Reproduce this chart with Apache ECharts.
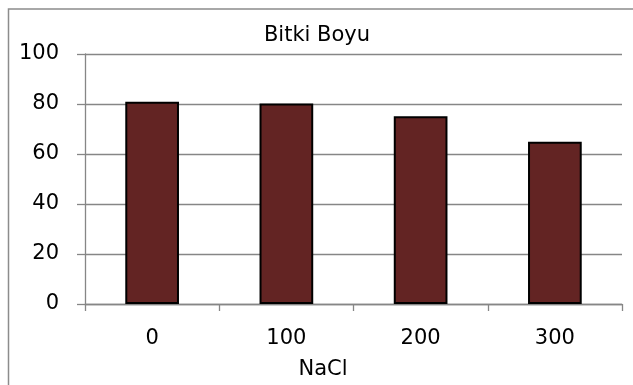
<!DOCTYPE html>
<html>
<head>
<meta charset="utf-8">
<script src="https://cdn.jsdelivr.net/npm/echarts@6/dist/echarts.min.js"></script>
<style>
  html, body { margin: 0; padding: 0; background: #fff; }
  #chart { width: 633px; height: 385px; }
</style>
</head>
<body>
<div id="chart"></div>
<script>
// NaCl doses and plant height values
var categories = ['0', '100', '200', '300'];
var plantHeight = [80.9, 80.2, 75.1, 64.9];
var yTicks = { min: 0, max: 100, interval: 20 };
var chartTitle = 'Bitki Boyu';
var xAxisName = 'NaCl';

var FONT = 'DejaVu Sans';
var GRID_GRAY = '#868686';

var chart = echarts.init(document.getElementById('chart'), null, { renderer: 'canvas' });

chart.setOption({
  animation: false,
  backgroundColor: '#ffffff',
  title: {
    text: chartTitle,
    left: 312,
    top: 20,
    textAlign: 'center',
    textStyle: { fontFamily: FONT, fontSize: 21, fontWeight: 'normal', color: '#000' }
  },
  graphic: [{
    type: 'rect',
    shape: { x: 8.5, y: 9, width: 1000, height: 1000 },
    style: { fill: 'none', stroke: '#8c8c8c', lineWidth: 1.5 },
    silent: true
  }],
  grid: { left: 85, right: 11, top: 54, bottom: 80 },
  xAxis: {
    type: 'category',
    data: categories,
    boundaryGap: true,
    name: xAxisName,
    nameLocation: 'middle',
    nameGap: 55,
    nameTextStyle: { fontFamily: FONT, fontSize: 21, color: '#000', padding: [0, 61, 0, 0] },
    axisLine: { show: true, lineStyle: { color: GRID_GRAY, width: 1.3 } },
    axisTick: { show: true, alignWithLabel: false, length: 7, lineStyle: { color: GRID_GRAY, width: 1.3 } },
    axisLabel: { fontFamily: FONT, fontSize: 21, color: '#000', margin: 24 },
    splitLine: { show: false }
  },
  yAxis: {
    type: 'value',
    min: yTicks.min,
    max: yTicks.max,
    interval: yTicks.interval,
    axisLine: { show: true, lineStyle: { color: GRID_GRAY, width: 1.3 } },
    axisTick: { show: true, length: 8, lineStyle: { color: GRID_GRAY, width: 1.3 } },
    axisLabel: { fontFamily: FONT, fontSize: 21, color: '#000', margin: 26 },
    splitLine: { show: true, lineStyle: { color: GRID_GRAY, width: 1.3 } }
  },
  series: [{
    type: 'bar',
    data: plantHeight,
    barWidth: '40%',
    itemStyle: { color: '#632423', borderColor: '#000', borderWidth: 2 }
  }]
});
</script>
</body>
</html>
